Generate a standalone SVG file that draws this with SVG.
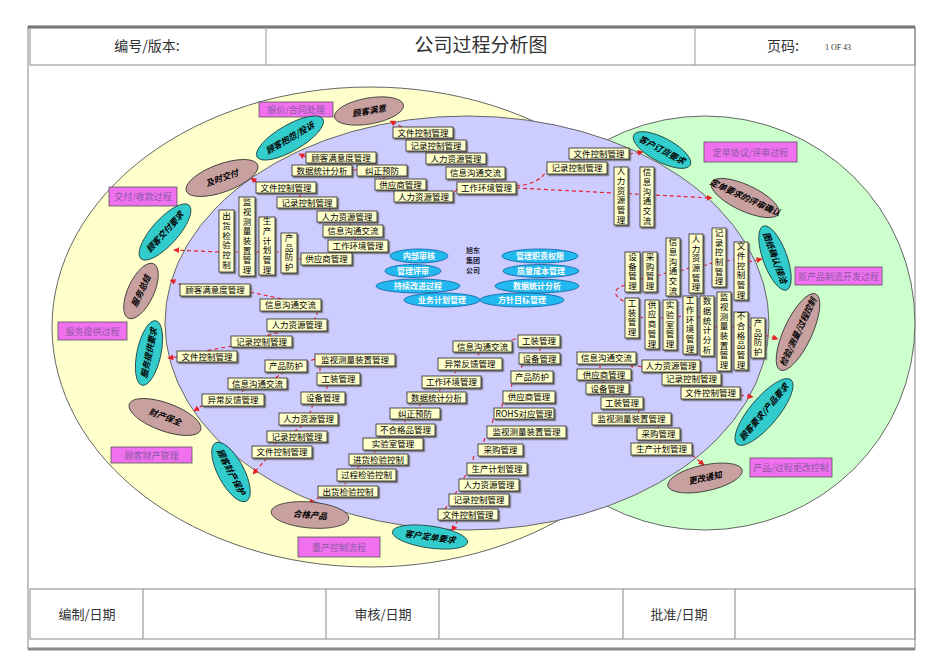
<svg xmlns="http://www.w3.org/2000/svg" width="950" height="672" viewBox="0 0 950 672">
<defs>
<filter id="sh" x="-10%" y="-10%" width="130%" height="140%"><feDropShadow dx="1.5" dy="1.5" stdDeviation="0" flood-color="#666"/></filter>
<marker id="ar" viewBox="0 0 10 10" refX="9" refY="5" markerWidth="5" markerHeight="5" orient="auto"><path d="M0,0 L10,5 L0,10 z" fill="#E8202A"/></marker>
<style>
.frame{fill:none;stroke:#888;stroke-width:1}
.ht{font-family:"Noto Sans CJK SC","Liberation Sans",sans-serif;fill:#333;text-anchor:middle}
.b{fill:#FFFFCC;stroke:#222;stroke-width:.8;filter:url(#sh)}
.t{font-family:"Noto Sans CJK SC",sans-serif;font-size:8.5px;text-anchor:middle;fill:#000}
.v{writing-mode:vertical-rl;letter-spacing:1.2px}
.pk{fill:#F070F0;stroke:#555;stroke-width:.8}
.pt{font-family:"Noto Sans CJK SC",sans-serif;font-size:9px;text-anchor:middle;fill:#8a5aa0}
.te{fill:#33CCCC;stroke:#1a3a3a;stroke-width:.8}
.br{fill:#C8A0A0;stroke:#333;stroke-width:.8}
.et{font-family:"Noto Sans CJK SC",sans-serif;font-size:8.5px;font-weight:bold;font-style:italic;text-anchor:middle;fill:#000}
.ce{fill:#22B8F0;stroke:#1060A0;stroke-width:.8}
.ct{font-family:"Noto Sans CJK SC",sans-serif;font-size:8px;font-weight:bold;text-anchor:middle;fill:#fff}
.c{fill:none;stroke:#E8202A;stroke-width:1.2;stroke-dasharray:4 3}
</style>
</defs>
<rect width="950" height="672" fill="#fff"/>
<g id="frame">
<rect x="28" y="27" width="887" height="622" class="frame"/>
<line x1="28" y1="27" x2="915" y2="27" stroke="#666" stroke-width="3"/>
<rect x="30" y="27" width="885" height="38" class="frame"/>
<line x1="266" y1="27" x2="266" y2="65" stroke="#999"/>
<line x1="695" y1="27" x2="695" y2="65" stroke="#999"/>
<text x="147" y="51" class="ht" font-size="14">编号/版本:</text>
<text x="481" y="52" class="ht" font-size="19">公司过程分析图</text>
<text x="783" y="51" class="ht" font-size="14">页码:</text>
<text x="838" y="50" font-family="Liberation Serif,serif" font-size="8" fill="#333" text-anchor="middle">1 OF 43</text>
<rect x="30" y="589" width="885" height="50" class="frame"/>
<line x1="143" y1="589" x2="143" y2="639" stroke="#888"/>
<line x1="326" y1="589" x2="326" y2="639" stroke="#888"/>
<line x1="439" y1="589" x2="439" y2="639" stroke="#888"/>
<line x1="623" y1="589" x2="623" y2="639" stroke="#888"/>
<line x1="735" y1="589" x2="735" y2="639" stroke="#888"/>
<text x="87" y="619" class="ht" font-size="13">编制/日期</text>
<text x="383" y="619" class="ht" font-size="13">审核/日期</text>
<text x="679" y="619" class="ht" font-size="13">批准/日期</text>
<line x1="28" y1="649" x2="915" y2="649" stroke="#888" stroke-width="3"/>
</g>
<g id="regions">
<ellipse cx="370" cy="327" rx="318" ry="240" fill="#FFFFCC" stroke="#666" stroke-width="1"/>
<ellipse cx="705" cy="323" rx="210" ry="207" fill="#CCFFCC" stroke="#666" stroke-width="1"/>
<ellipse cx="467" cy="323" rx="302" ry="207" fill="#CCCCFF" stroke="#666" stroke-width="1"/>
</g>
<g id="connectors">
<path class="c" d="M402,127 L390,121" marker-end="url(#ar)"/>
<path class="c" d="M440,138 V140 M460,151 V153 M480,164 V167 M495,179 V182"/>
<path class="c" d="M457,189 L453,194 M420,191 V190 M383,179 L386,176"/>
<path class="c" d="M357,170 H352 M320,165 V163"/>
<path class="c" d="M306,157 L299,154" marker-end="url(#ar)"/>
<path class="c" d="M516,188 L712,198" marker-end="url(#ar)"/>
<path class="c" d="M516,186 Q540,184 547,170"/>
<path class="c" d="M629,154 L643,152" marker-end="url(#ar)"/>
<path class="c" d="M258,183 L251,178" marker-end="url(#ar)"/>
<path class="c" d="M300,193 V197 M330,208 V211 M350,222 V225 M355,237 V240 M340,252 V253 M301,259 H297"/>
<path class="c" d="M219,252 L174,250" marker-end="url(#ar)"/>
<path class="c" d="M234,252 H239 M255,252 H259 M275,252 H281"/>
<path class="c" d="M182,285 L170,280" marker-end="url(#ar)"/>
<path class="c" d="M250,292 L282,299 M318,311 L315,319 M285,331 L265,336 M232,346 L205,351"/>
<path class="c" d="M177,357 L168,358" marker-end="url(#ar)"/>
<path class="c" d="M315,359 L307,362 M285,372 L275,378 M245,389 L240,394"/>
<path class="c" d="M203,405 L194,411" marker-end="url(#ar)"/>
<path class="c" d="M320,367 L320,373 M328,385 L325,392 M313,404 L310,413 M303,425 L295,431 M278,442 L272,446"/>
<path class="c" d="M267,458 L253,474" marker-end="url(#ar)"/>
<path class="c" d="M512,340 L518,338 M480,352 L476,358 M457,370 L452,376 M442,388 L438,392 M422,403 L417,408 M407,419 L403,424 M393,436 L390,438 M377,450 L373,454 M360,465 L357,469 M347,481 L343,486"/>
<path class="c" d="M320,497 L308,504" marker-end="url(#ar)"/>
<path class="c" d="M540,347 V353 M523,364 L520,371 M512,383 L511,391 M503,403 L501,408 M493,419 L492,426 M485,438 L483,444 M474,456 L472,463 M466,475 L463,479 M457,491 L455,494 M447,506 L445,509"/>
<path class="c" d="M458,520 L452,531" marker-end="url(#ar)"/>
<path class="c" d="M640,280 L643,278 M657,276 L666,273 M680,271 L689,268 M703,266 L712,263 M726,261 L734,260"/>
<path class="c" d="M748,262 L762,259" marker-end="url(#ar)"/>
<path class="c" d="M625,285 Q606,292 625,302"/>
<path class="c" d="M639,317 L645,318 M659,318 L663,318 M677,317 L683,316 M697,315 L700,318 M714,327 L717,327 M731,327 L734,327 M748,327 L751,328"/>
<path class="c" d="M765,335 L778,339" marker-end="url(#ar)"/>
<path class="c" d="M740,395 L753,397" marker-end="url(#ar)"/>
<path class="c" d="M715,385 V387 M662,372 L665,373"/>
<path class="c" d="M642,367 L628,364" marker-end="url(#ar)"/>
<path class="c" d="M600,364 V369 M603,380 V383 M613,394 V397 M640,409 L638,413 M658,425 V428 M660,440 V443"/>
<path class="c" d="M692,455 L704,465" marker-end="url(#ar)"/>
</g>
<g id="n-p1"><rect class="pk" x="259" y="102" width="74" height="15"/><text class="pt" x="296" y="113">报价/合同处理</text></g>
<g id="n-p2"><rect class="pk" x="109" y="187" width="68" height="19"/><text class="pt" x="143" y="200">交付/收款过程</text></g>
<g id="n-p3"><rect class="pk" x="58" y="322" width="69" height="18"/><text class="pt" x="92.5" y="334.5">服务提供过程</text></g>
<g id="n-p4"><rect class="pk" x="111" y="447" width="81" height="16"/><text class="pt" x="151.5" y="458.5">顾客财产管理</text></g>
<g id="n-p5"><rect class="pk" x="298" y="537" width="82" height="20"/><text class="pt" x="339" y="550.5">量产控制流程</text></g>
<g id="n-p6"><rect class="pk" x="704" y="142" width="93" height="20"/><text class="pt" x="750.5" y="155.5">定单协议/评审过程</text></g>
<g id="n-p7"><rect class="pk" x="795" y="267" width="87" height="18"/><text class="pt" x="838.5" y="279.5">新产品制造开发过程</text></g>
<g id="n-p8"><rect class="pk" x="750" y="458" width="82" height="19"/><text class="pt" x="791" y="471">产品/过程更改控制</text></g>
<g id="n-e1" transform="translate(369,111) rotate(-10)"><ellipse class="br" rx="35" ry="13"/><text class="et" y="3">顾客满意</text></g>
<g id="n-e2" transform="translate(290,138) rotate(-30)"><ellipse class="te" rx="38" ry="13"/><text class="et" y="3">顾客抱怨/投诉</text></g>
<g id="n-e3" transform="translate(222,178) rotate(-20)"><ellipse class="br" rx="38" ry="14"/><text class="et" y="3">及时交付</text></g>
<g id="n-e4" transform="translate(165,232) rotate(-48)"><ellipse class="te" rx="36" ry="13"/><text class="et" y="3">顾客交付要求</text></g>
<g id="n-e5" transform="translate(141,291) rotate(-65)"><ellipse class="br" rx="30" ry="13"/><text class="et" y="3">服务总结</text></g>
<g id="n-e6" transform="translate(149,353) rotate(-78)"><ellipse class="te" rx="33" ry="12"/><text class="et" y="3">服务提供要求</text></g>
<g id="n-e7" transform="translate(165,417) rotate(20)"><ellipse class="br" rx="38" ry="14"/><text class="et" y="3">财产保全</text></g>
<g id="n-e8" transform="translate(231,472) rotate(62)"><ellipse class="te" rx="33" ry="13"/><text class="et" y="3">顾客财产保护</text></g>
<g id="n-e9" transform="translate(310,515) rotate(5)"><ellipse class="br" rx="39" ry="13"/><text class="et" y="3">合格产品</text></g>
<g id="n-e10" transform="translate(430,537) rotate(8)"><ellipse class="te" rx="38" ry="11"/><text class="et" y="3">客户定单要求</text></g>
<g id="n-e11" transform="translate(662,150) rotate(28)"><ellipse class="te" rx="32" ry="12"/><text class="et" y="3">客户订货要求</text></g>
<g id="n-e12" transform="translate(745,198) rotate(25)"><ellipse class="br" rx="37" ry="13"/><text class="et" y="2.5" font-size="6.5">定单要求的评审确认</text></g>
<g id="n-e13" transform="translate(775,258) rotate(70)"><ellipse class="te" rx="34" ry="12"/><text class="et" y="3">图纸确认/接洽</text></g>
<g id="n-e14" transform="translate(798,332) rotate(-65)"><ellipse class="br" rx="42" ry="14"/><text class="et" y="3">检验/测量/过程控制</text></g>
<g id="n-e15" transform="translate(764,412) rotate(-50)"><ellipse class="te" rx="42" ry="14"/><text class="et" y="3">顾客要求/产品要求</text></g>
<g id="n-e16" transform="translate(705,478) rotate(-12)"><ellipse class="br" rx="38" ry="13"/><text class="et" y="3">更改通知</text></g>
<g id="n-c1"><ellipse class="ce" cx="419" cy="256" rx="29" ry="7"/><text class="ct" x="419" y="259">内部审核</text></g>
<g id="n-c2"><ellipse class="ce" cx="413" cy="271" rx="28" ry="6.5"/><text class="ct" x="413" y="274">管理评审</text></g>
<g id="n-c3"><ellipse class="ce" cx="418" cy="286" rx="42" ry="7"/><text class="ct" x="418" y="289">持续改进过程</text></g>
<g id="n-c4"><ellipse class="ce" cx="442" cy="300" rx="38" ry="7"/><text class="ct" x="442" y="303">业务计划管理</text></g>
<g id="n-c5"><ellipse class="ce" cx="522" cy="300" rx="42" ry="7"/><text class="ct" x="522" y="303">方针目标管理</text></g>
<g id="n-c6"><ellipse class="ce" cx="537" cy="286" rx="42" ry="7"/><text class="ct" x="537" y="289">数据统计分析</text></g>
<g id="n-c7"><ellipse class="ce" cx="541" cy="271" rx="38" ry="6.5"/><text class="ct" x="541" y="274">质量成本管理</text></g>
<g id="n-c8"><ellipse class="ce" cx="540" cy="256" rx="38" ry="7"/><text class="ct" x="540" y="259">管理职责权限</text></g>
<g id="n-c0" font-family="Noto Sans CJK SC,sans-serif" font-size="7" font-weight="bold" fill="#223" text-anchor="middle"><text x="473" y="253">旭东</text><text x="473" y="263">集团</text><text x="473" y="273">公司</text></g>
<g id="n-b1"><rect class="b" x="306" y="152" width="70" height="11"/><text class="t" x="341" y="160.5">顾客满意度管理</text></g>
<g id="n-b2"><rect class="b" x="292" y="165" width="60" height="11"/><text class="t" x="322" y="173.5">数据统计分析</text></g>
<g id="n-b3"><rect class="b" x="357" y="165" width="50" height="11"/><text class="t" x="382" y="173.5">纠正预防</text></g>
<g id="n-b4"><rect class="b" x="393" y="127" width="60" height="11"/><text class="t" x="423" y="135.5">文件控制管理</text></g>
<g id="n-b5"><rect class="b" x="406" y="140" width="60" height="11"/><text class="t" x="436" y="148.5">记录控制管理</text></g>
<g id="n-b6"><rect class="b" x="426" y="153" width="60" height="11"/><text class="t" x="456" y="161.5">人力资源管理</text></g>
<g id="n-b7"><rect class="b" x="446" y="167" width="59" height="12"/><text class="t" x="475.5" y="176">信息沟通交流</text></g>
<g id="n-b8"><rect class="b" x="375" y="179" width="51" height="11"/><text class="t" x="400.5" y="187.5">供应商管理</text></g>
<g id="n-b9"><rect class="b" x="457" y="182" width="59" height="12"/><text class="t" x="486.5" y="191">工作环境管理</text></g>
<g id="n-b10"><rect class="b" x="394" y="191" width="59" height="11"/><text class="t" x="423.5" y="199.5">人力资源管理</text></g>
<g id="n-b11"><rect class="b" x="256" y="182" width="60" height="11"/><text class="t" x="286" y="190.5">文件控制管理</text></g>
<g id="n-b12"><rect class="b" x="277" y="197" width="60" height="11"/><text class="t" x="307" y="205.5">记录控制管理</text></g>
<g id="n-b13"><rect class="b" x="317" y="211" width="60" height="11"/><text class="t" x="347" y="219.5">人力资源管理</text></g>
<g id="n-b14"><rect class="b" x="323" y="225" width="60" height="12"/><text class="t" x="353" y="234">信息沟通交流</text></g>
<g id="n-b15"><rect class="b" x="328" y="240" width="60" height="12"/><text class="t" x="358" y="249">工作环境管理</text></g>
<g id="n-b16"><rect class="b" x="301" y="253" width="51" height="12"/><text class="t" x="326.5" y="262">供应商管理</text></g>
<g id="n-b17"><rect class="b" x="569" y="148" width="60" height="11"/><text class="t" x="599" y="156.5">文件控制管理</text></g>
<g id="n-b18"><rect class="b" x="547" y="162" width="60" height="12"/><text class="t" x="577" y="171">记录控制管理</text></g>
<g id="n-b19"><rect class="b" x="577" y="352" width="59" height="12"/><text class="t" x="606.5" y="361">信息沟通交流</text></g>
<g id="n-b20"><rect class="b" x="642" y="360" width="58" height="12"/><text class="t" x="671" y="369">人力资源管理</text></g>
<g id="n-b21"><rect class="b" x="577" y="369" width="54" height="11"/><text class="t" x="604" y="377.5">供应商管理</text></g>
<g id="n-b22"><rect class="b" x="662" y="373" width="59" height="12"/><text class="t" x="691.5" y="382">记录控制管理</text></g>
<g id="n-b23"><rect class="b" x="586" y="383" width="43" height="11"/><text class="t" x="607.5" y="391.5">设备管理</text></g>
<g id="n-b24"><rect class="b" x="681" y="387" width="59" height="12"/><text class="t" x="710.5" y="396">文件控制管理</text></g>
<g id="n-b25"><rect class="b" x="601" y="397" width="42" height="12"/><text class="t" x="622" y="406">工装管理</text></g>
<g id="n-b26"><rect class="b" x="592" y="413" width="79" height="12"/><text class="t" x="631.5" y="422">监视测量装置管理</text></g>
<g id="n-b27"><rect class="b" x="637" y="428" width="43" height="12"/><text class="t" x="658.5" y="437">采购管理</text></g>
<g id="n-b28"><rect class="b" x="631" y="443" width="61" height="12"/><text class="t" x="661.5" y="452">生产计划管理</text></g>
<g id="n-b29"><rect class="b" x="180" y="284" width="70" height="12"/><text class="t" x="215" y="293">顾客满意度管理</text></g>
<g id="n-b30"><rect class="b" x="260" y="299" width="61" height="12"/><text class="t" x="290.5" y="308">信息沟通交流</text></g>
<g id="n-b31"><rect class="b" x="267" y="319" width="60" height="12"/><text class="t" x="297" y="328">人力资源管理</text></g>
<g id="n-b32"><rect class="b" x="231" y="336" width="61" height="11"/><text class="t" x="261.5" y="344.5">记录控制管理</text></g>
<g id="n-b33"><rect class="b" x="177" y="351" width="60" height="11"/><text class="t" x="207" y="359.5">文件控制管理</text></g>
<g id="n-b34"><rect class="b" x="265" y="360" width="42" height="12"/><text class="t" x="286" y="369">产品防护</text></g>
<g id="n-b35"><rect class="b" x="315" y="354" width="80" height="12"/><text class="t" x="355" y="363">监视测量装置管理</text></g>
<g id="n-b36"><rect class="b" x="228" y="378" width="59" height="11"/><text class="t" x="257.5" y="386.5">信息沟通交流</text></g>
<g id="n-b37"><rect class="b" x="317" y="373" width="43" height="12"/><text class="t" x="338.5" y="382">工装管理</text></g>
<g id="n-b38"><rect class="b" x="202" y="394" width="62" height="12"/><text class="t" x="233" y="403">异常反馈管理</text></g>
<g id="n-b39"><rect class="b" x="301" y="392" width="44" height="12"/><text class="t" x="323" y="401">设备管理</text></g>
<g id="n-b40"><rect class="b" x="279" y="413" width="59" height="12"/><text class="t" x="308.5" y="422">人力资源管理</text></g>
<g id="n-b41"><rect class="b" x="267" y="431" width="60" height="11"/><text class="t" x="297" y="439.5">记录控制管理</text></g>
<g id="n-b42"><rect class="b" x="252" y="446" width="60" height="12"/><text class="t" x="282" y="455">文件控制管理</text></g>
<g id="n-b43"><rect class="b" x="453" y="341" width="59" height="11"/><text class="t" x="482.5" y="349.5">信息沟通交流</text></g>
<g id="n-b44"><rect class="b" x="518" y="335" width="42" height="12"/><text class="t" x="539" y="344">工装管理</text></g>
<g id="n-b45"><rect class="b" x="438" y="358" width="64" height="12"/><text class="t" x="470" y="367">异常反馈管理</text></g>
<g id="n-b46"><rect class="b" x="519" y="353" width="41" height="11"/><text class="t" x="539.5" y="361.5">设备管理</text></g>
<g id="n-b47"><rect class="b" x="422" y="376" width="59" height="12"/><text class="t" x="451.5" y="385">工作环境管理</text></g>
<g id="n-b48"><rect class="b" x="511" y="371" width="42" height="12"/><text class="t" x="532" y="380">产品防护</text></g>
<g id="n-b49"><rect class="b" x="407" y="392" width="59" height="11"/><text class="t" x="436.5" y="400.5">数据统计分析</text></g>
<g id="n-b50"><rect class="b" x="503" y="391" width="52" height="12"/><text class="t" x="529" y="400">供应商管理</text></g>
<g id="n-b51"><rect class="b" x="390" y="408" width="50" height="11"/><text class="t" x="415" y="416.5">纠正预防</text></g>
<g id="n-b52"><rect class="b" x="494" y="408" width="60" height="11"/><text class="t" x="524" y="416.5">ROHS对应管理</text></g>
<g id="n-b53"><rect class="b" x="376" y="424" width="59" height="12"/><text class="t" x="405.5" y="433">不合格品管理</text></g>
<g id="n-b54"><rect class="b" x="487" y="426" width="79" height="12"/><text class="t" x="526.5" y="435">监视测量装置管理</text></g>
<g id="n-b55"><rect class="b" x="363" y="438" width="60" height="12"/><text class="t" x="393" y="447">实验室管理</text></g>
<g id="n-b56"><rect class="b" x="478" y="444" width="45" height="12"/><text class="t" x="500.5" y="453">采购管理</text></g>
<g id="n-b57"><rect class="b" x="349" y="454" width="59" height="11"/><text class="t" x="378.5" y="462.5">进货检验控制</text></g>
<g id="n-b58"><rect class="b" x="467" y="463" width="60" height="12"/><text class="t" x="497" y="472">生产计划管理</text></g>
<g id="n-b59"><rect class="b" x="337" y="469" width="59" height="12"/><text class="t" x="366.5" y="478">过程检验控制</text></g>
<g id="n-b60"><rect class="b" x="459" y="479" width="60" height="12"/><text class="t" x="489" y="488">人力资源管理</text></g>
<g id="n-b61"><rect class="b" x="318" y="486" width="60" height="11"/><text class="t" x="348" y="494.5">出货检验控制</text></g>
<g id="n-b62"><rect class="b" x="449" y="494" width="60" height="12"/><text class="t" x="479" y="503">记录控制管理</text></g>
<g id="n-b63"><rect class="b" x="438" y="509" width="60" height="11"/><text class="t" x="468" y="517.5">文件控制管理</text></g>
<g id="n-v1"><rect class="b" x="219" y="210" width="15" height="62"/><text class="t v" x="226.5" y="241">出货检验控制</text></g>
<g id="n-v2"><rect class="b" x="239" y="197" width="16" height="79"/><text class="t v" x="247" y="236.5">监视测量装置管理</text></g>
<g id="n-v3"><rect class="b" x="259" y="217" width="16" height="58"/><text class="t v" x="267" y="246">生产计划管理</text></g>
<g id="n-v4"><rect class="b" x="281" y="233" width="16" height="40"/><text class="t v" x="289" y="253">产品防护</text></g>
<g id="n-v5"><rect class="b" x="614" y="167" width="14" height="58"/><text class="t v" x="621" y="196">人力资源管理</text></g>
<g id="n-v6"><rect class="b" x="640" y="167" width="14" height="60"/><text class="t v" x="647" y="197">信息沟通交流</text></g>
<g id="n-v7"><rect class="b" x="625" y="252" width="15" height="40"/><text class="t v" x="632.5" y="272">设备管理</text></g>
<g id="n-v8"><rect class="b" x="643" y="252" width="14" height="40"/><text class="t v" x="650" y="272">采购管理</text></g>
<g id="n-v9"><rect class="b" x="666" y="238" width="14" height="58"/><text class="t v" x="673" y="267">信息沟通交流</text></g>
<g id="n-v10"><rect class="b" x="689" y="234" width="14" height="59"/><text class="t v" x="696" y="263.5">人力资源管理</text></g>
<g id="n-v11"><rect class="b" x="712" y="228" width="14" height="59"/><text class="t v" x="719" y="257.5">记录控制管理</text></g>
<g id="n-v12"><rect class="b" x="734" y="242" width="14" height="58"/><text class="t v" x="741" y="271">文件控制管理</text></g>
<g id="n-v13"><rect class="b" x="625" y="298" width="14" height="40"/><text class="t v" x="632" y="318">工装管理</text></g>
<g id="n-v14"><rect class="b" x="645" y="300" width="14" height="49"/><text class="t v" x="652" y="324.5">供应商管理</text></g>
<g id="n-v15"><rect class="b" x="663" y="300" width="14" height="50"/><text class="t v" x="670" y="325">实验室管理</text></g>
<g id="n-v16"><rect class="b" x="683" y="296" width="14" height="58"/><text class="t v" x="690" y="325">工作环境管理</text></g>
<g id="n-v17"><rect class="b" x="700" y="296" width="14" height="60"/><text class="t v" x="707" y="326">数据统计分析</text></g>
<g id="n-v18"><rect class="b" x="717" y="292" width="14" height="79"/><text class="t v" x="724" y="331.5">监视测量装置管理</text></g>
<g id="n-v19"><rect class="b" x="734" y="312" width="14" height="58"/><text class="t v" x="741" y="341">不合格品管理</text></g>
<g id="n-v20"><rect class="b" x="751" y="318" width="14" height="40"/><text class="t v" x="758" y="338">产品防护</text></g>
</svg>
